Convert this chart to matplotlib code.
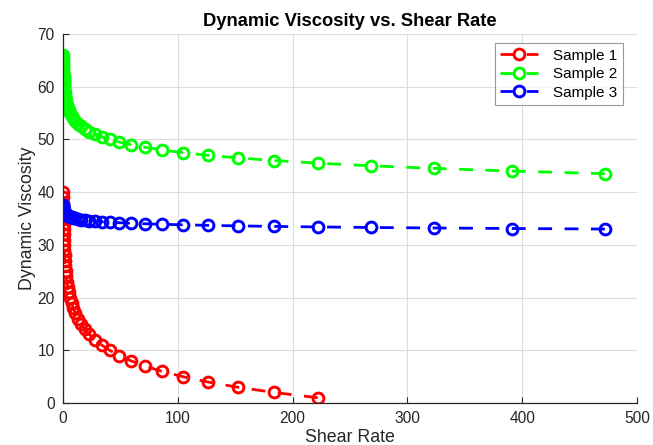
import matplotlib
matplotlib.use("Agg")
import matplotlib.pyplot as plt

plt.rcParams['font.family'] = ['Liberation Sans', 'DejaVu Sans']

# Shear-rate values (shared by the three samples)
shear_rate = [472, 390.8, 323.6, 268.0, 221.9, 183.7, 152.1, 125.9, 104.3, 86.3,
              71.5, 59.2, 49.0, 40.6, 33.6, 27.8, 23.0, 19.1, 15.8, 13.1,
              10.8, 8.95, 7.41, 6.14, 5.08, 4.21, 3.48, 2.88, 2.39, 1.98,
              1.64, 1.35, 1.12, 0.93, 0.77, 0.64, 0.53, 0.44, 0.36, 0.30,
              0.25, 0.20, 0.17, 0.14, 0.12, 0.10]

# Sample 1: viscosity 1..40, at shear rates 221.9 .. 0.14
shear_rate_1 = shear_rate[4:44]
visc_1 = [1, 2, 3, 4, 5, 6, 7, 8, 9, 10,
          11, 12, 13, 14, 15, 16, 17, 18, 19, 20,
          21, 22, 23, 24, 25, 26, 27, 28, 29, 30,
          31, 32, 33, 34, 35, 36, 37, 38, 39, 40]

visc_2 = [43.5, 44.0, 44.5, 45.0, 45.5, 46.0, 46.5, 47.0, 47.5, 48.0,
          48.5, 49.0, 49.5, 50.0, 50.5, 51.0, 51.5, 52.0, 52.5, 53.0,
          53.5, 54.0, 54.5, 55.0, 55.5, 56.0, 56.5, 57.0, 57.5, 58.0,
          58.5, 59.0, 59.5, 60.0, 60.5, 61.0, 61.5, 62.0, 62.5, 63.0,
          63.5, 64.0, 64.5, 65.0, 65.5, 66.0]

visc_3 = [33.0, 33.1, 33.2, 33.3, 33.4, 33.5, 33.6, 33.7, 33.8, 33.9,
          34.0, 34.1, 34.2, 34.3, 34.4, 34.5, 34.6, 34.7, 34.8, 34.9,
          35.0, 35.1, 35.2, 35.3, 35.4, 35.5, 35.6, 35.7, 35.8, 35.9,
          36.0, 36.1, 36.2, 36.3, 36.4, 36.5, 36.6, 36.7, 36.8, 36.9,
          37.0, 37.1, 37.2, 37.3, 37.4, 37.5]

labels = ["Sample 1", "Sample 2", "Sample 3"]
colors = ["#ff0000", "#00ff00", "#0000ff"]

fig = plt.figure(figsize=(6.53, 4.45), dpi=100)
ax = fig.add_axes([0.0965, 0.0944, 0.879, 0.8292])

series = [(shear_rate_1, visc_1), (shear_rate, visc_2), (shear_rate, visc_3)]
for (x, y), lab, c in zip(series, labels, colors):
    ax.plot(x, y, linestyle=(0, (5, 4.5)), linewidth=2.0, color=c,
            marker='o', markersize=7.8, markerfacecolor='none',
            markeredgewidth=2.1, markeredgecolor=c, label=lab)

ax.set_xlim(0, 500)
ax.set_ylim(0, 70)
ax.set_xticks([0, 100, 200, 300, 400, 500])
ax.set_yticks([0, 10, 20, 30, 40, 50, 60, 70])
ax.grid(True, color='#dcdcdc', linewidth=0.8)
ax.set_axisbelow(True)
for s in ['top', 'right']:
    ax.spines[s].set_visible(False)
for s in ['left', 'bottom']:
    ax.spines[s].set_color('#262626')
    ax.spines[s].set_linewidth(0.9)
ax.tick_params(direction='in', length=4, colors='#262626', labelsize=11.2,
               labelcolor='#262626', pad=6)

ax.set_title("Dynamic Viscosity vs. Shear Rate", fontsize=13.2, fontweight='bold', pad=6)
ax.set_xlabel("Shear Rate", fontsize=12.8, color='#262626', labelpad=2)
ax.set_ylabel("Dynamic Viscosity", fontsize=12.8, color='#262626', labelpad=1)

leg = ax.legend(loc='upper right', bbox_to_anchor=(0.9756, 0.975), fontsize=11,
                frameon=True, fancybox=False, edgecolor='#808080',
                handlelength=2.5, borderpad=0.35, labelspacing=0.3,
                handletextpad=1.0, borderaxespad=0.0)
leg.get_frame().set_linewidth(0.8)

fig.savefig("out.png", dpi=100)
